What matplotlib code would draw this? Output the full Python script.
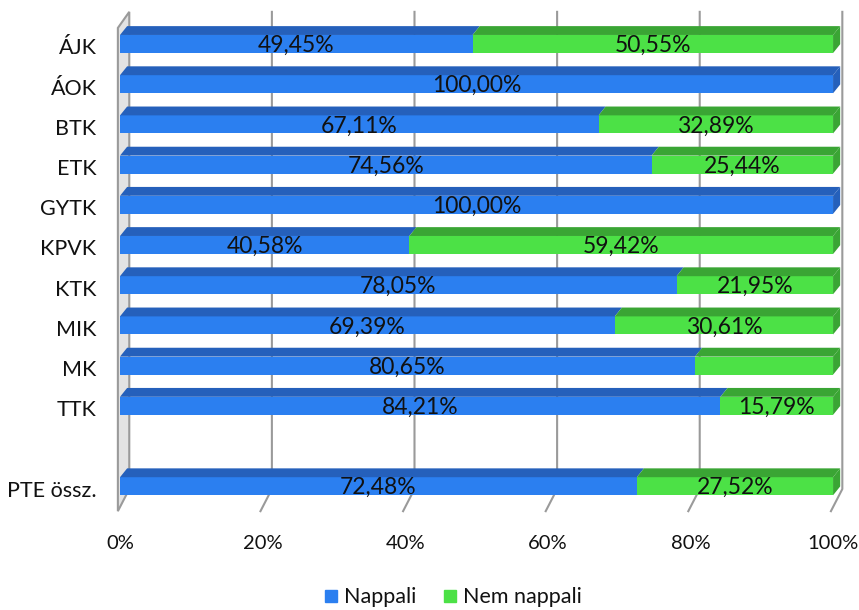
import matplotlib
matplotlib.use("Agg")
import matplotlib.pyplot as plt
from matplotlib.patches import Polygon
from matplotlib.lines import Line2D

plt.rcParams['font.family'] = ['Lato', 'DejaVu Sans']

categories = ['ÁJK', 'ÁOK', 'BTK', 'ETK', 'GYTK', 'KPVK', 'KTK', 'MIK', 'MK', 'TTK', 'PTE össz.']
rows = [0, 1, 2, 3, 4, 5, 6, 7, 8, 9, 11]
nappali = [49.45, 100.00, 67.11, 74.56, 100.00, 40.58, 78.05, 69.39, 80.65, 84.21, 72.48]
nem_nappali = [50.55, 0.00, 32.89, 25.44, 0.00, 59.42, 21.95, 30.61, 19.35, 15.79, 27.52]
show_nappali = [True] * 11
show_nem = [True, False, True, True, False, True, True, True, False, True, True]
xticks = [0, 20, 40, 60, 80, 100]

blue_front, blue_top = '#2b7ff0', '#2560bb'
green_front, green_top = '#4ce146', '#3aa534'
txt = '#111111'

fig = plt.figure(figsize=(8.59, 6.10), dpi=100)
ax = fig.add_axes([0.1314, 0.1574, 0.855, 0.8295])
ax.set_xlim(-1, 102)
ax.set_ylim(11.69, -0.896)
ax.axis('off')

# back wall, floor and grid
wx, wy_top, wy_bot = 1.3, -0.80, 11.07
front_top, front_bot = -0.40, 11.62
wall = Polygon([(-0.3, front_top), (wx, wy_top), (wx, wy_bot), (-0.3, front_bot)],
               closed=True, facecolor='#e3e3e3', edgecolor='#9a9a9a', lw=1.5, zorder=1)
ax.add_patch(wall)
for v in xticks[1:]:
    ax.plot([v + wx, v + wx, v - 0.3], [wy_top, wy_bot, front_bot], color='#9a9a9a', lw=1.5, zorder=1)

h, dx, dy = 0.45, 1.0, 0.22

def bar3d(y, left, width, front, top, side_end):
    if width <= 0:
        return
    right = left + width
    y0 = y - h / 2
    ax.barh(y, width, left=left, height=h, color=front, zorder=3)
    ax.add_patch(Polygon([(left, y0), (right, y0), (right + dx, y0 - dy), (left + dx, y0 - dy)],
                         closed=True, facecolor=top, edgecolor='none', zorder=3))
    if side_end:
        ax.add_patch(Polygon([(right, y0), (right, y0 + h), (right + dx, y0 + h - dy), (right + dx, y0 - dy)],
                             closed=True, facecolor=top, edgecolor='none', zorder=3))

for y, a, b, sa, sb in zip(rows, nappali, nem_nappali, show_nappali, show_nem):
    bar3d(y, 0, a, blue_front, blue_top, b <= 0)
    bar3d(y, a, b, green_front, green_top, True)
    if sa:
        ax.text(a / 2, y + 0.2, f"{a:.2f}%".replace('.', ','), ha='center', va='baseline',
                fontsize=16.5, color=txt, zorder=5)
    if sb:
        ax.text(a + b / 2, y + 0.2, f"{b:.2f}%".replace('.', ','), ha='center', va='baseline',
                fontsize=16.5, color=txt, zorder=5)

# category labels
for y, c in zip(rows, categories):
    ax.text(-3.3, y + 0.26, c, ha='right', va='baseline', fontsize=15.5, color=txt)

# x tick labels
tb = ax.get_xaxis_transform()
for v in xticks:
    ax.text(v, -0.0692, f"{v}%", transform=tb, ha='center', va='baseline',
            fontsize=14.5, color=txt)

handles = [Line2D([], [], marker='s', linestyle='none', markersize=8, color=blue_front),
           Line2D([], [], marker='s', linestyle='none', markersize=8, color=green_front)]
fig.legend(handles, ['Nappali', 'Nem nappali'], loc='center', bbox_to_anchor=(0.525, 0.021),
           ncol=2, frameon=False, fontsize=15.5, handletextpad=0.1, columnspacing=1.1,
           handlelength=1.0, labelcolor=txt)

fig.savefig('out.png', dpi=100)
